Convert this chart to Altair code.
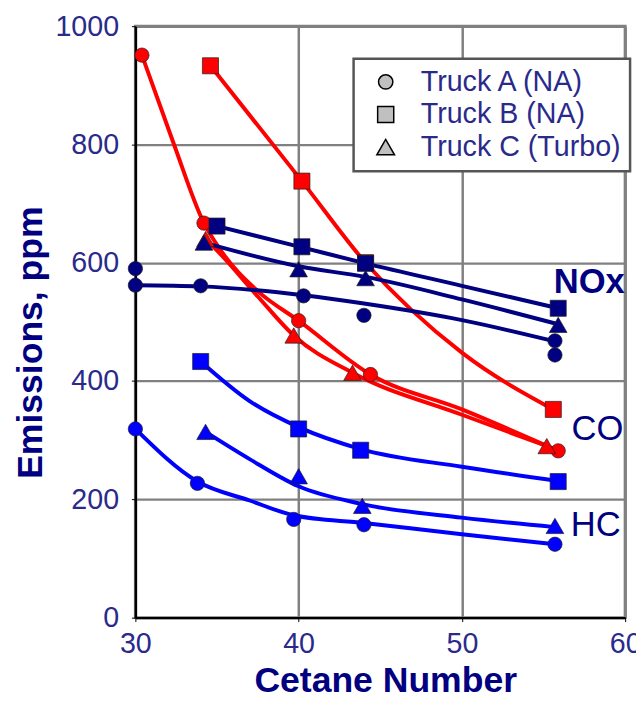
import altair as alt
import pandas as pd

co_a_x = [30.4, 34.2, 40.0, 44.4, 55.9]
co_a_y = [951, 667, 502, 411, 282]
co_b_x = [34.6, 40.2, 44.1, 55.6]
co_b_y = [933, 738, 600, 352]
co_c_x = [34.3, 39.7, 43.3, 55.2]
co_c_y = [640, 477, 414, 290]

hc_a_x = [30.0, 33.8, 39.7, 44.0, 55.7]
hc_a_y = [319, 227, 166, 157, 124]
hc_b_x = [34.0, 40.0, 43.8, 55.9]
hc_b_y = [433, 319, 283, 230]
hc_c_x = [34.3, 40.0, 43.9, 55.7]
hc_c_y = [314, 239, 189, 155]

nox_a_x = [30.0, 30.0, 34.0, 40.3, 44.0, 55.7, 55.7]
nox_a_y = [590, 562, 561, 544, 511, 468, 444]
nox_b_x = [35.0, 40.2, 44.1, 55.9]
nox_b_y = [662, 627, 599, 523]
nox_c_x = [34.2, 40.0, 44.1, 55.9]
nox_c_y = [634, 589, 574, 495]

# ---- trend curves ----
co_a_fit_x = [30.4, 32.3, 34.2, 35.2, 37.5, 40.0, 44.4, 50.0, 55.9]
co_a_fit_y = [951, 805, 667, 622, 552, 502, 411, 352, 282]
co_b_fit_x = [34.6, 40.2, 44.1, 50.0, 55.6]
co_b_fit_y = [933, 738, 600, 448, 352]
co_c_fit_x = [34.3, 35.2, 37.5, 39.7, 43.3, 50.0, 55.2]
co_c_fit_y = [640, 615, 543, 477, 414, 343, 290]

hc_a_fit_x = [30.0, 33.8, 37.0, 39.7, 44.0, 50.0, 55.7]
hc_a_fit_y = [319, 230, 198, 173, 160, 141, 124]
hc_b_fit_x = [34.0, 37.0, 40.0, 43.8, 50.0, 55.9]
hc_b_fit_y = [433, 366, 322, 285, 255, 231]
hc_c_fit_x = [34.3, 37.0, 40.0, 43.9, 50.0, 55.7]
hc_c_fit_y = [314, 268, 222, 192, 169, 153]

nox_a_fit_x = [30.0, 34.0, 40.3, 44.0, 50.0, 55.7]
nox_a_fit_y = [562, 560, 545, 531, 503, 467]
nox_b_fit_x = [35.0, 40.2, 44.1, 50.0, 55.9]
nox_b_fit_y = [662, 626, 599, 561, 523]
nox_c_fit_x = [34.2, 40.0, 44.1, 50.0, 55.9]
nox_c_fit_y = [634, 594, 576, 538, 496]

trucks = ["Truck A (NA)", "Truck B (NA)", "Truck C (Turbo)"]
pollutants = ["CO", "HC", "NOx"]
pollutant_colors = ["#ff0000", "#0000ff", "#000080"]
truck_shapes = ["circle", "square", "triangle-up"]
truck_sizes = [210, 320, 300]

label_text = ["NOx", "CO", "HC"]
label_x = [57.8, 58.3, 58.2]
label_y = [567, 319, 157]

marker_series = [
    ("CO", trucks[0], co_a_x, co_a_y),
    ("CO", trucks[1], co_b_x, co_b_y),
    ("CO", trucks[2], co_c_x, co_c_y),
    ("HC", trucks[0], hc_a_x, hc_a_y),
    ("HC", trucks[1], hc_b_x, hc_b_y),
    ("HC", trucks[2], hc_c_x, hc_c_y),
    ("NOx", trucks[0], nox_a_x, nox_a_y),
    ("NOx", trucks[1], nox_b_x, nox_b_y),
    ("NOx", trucks[2], nox_c_x, nox_c_y),
]
curve_series = [
    ("CO", trucks[0], co_a_fit_x, co_a_fit_y),
    ("CO", trucks[1], co_b_fit_x, co_b_fit_y),
    ("CO", trucks[2], co_c_fit_x, co_c_fit_y),
    ("HC", trucks[0], hc_a_fit_x, hc_a_fit_y),
    ("HC", trucks[1], hc_b_fit_x, hc_b_fit_y),
    ("HC", trucks[2], hc_c_fit_x, hc_c_fit_y),
    ("NOx", trucks[0], nox_a_fit_x, nox_a_fit_y),
    ("NOx", trucks[1], nox_b_fit_x, nox_b_fit_y),
    ("NOx", trucks[2], nox_c_fit_x, nox_c_fit_y),
]


def to_frame(series_list):
    rows = []
    for pol, trk, xs, ys in series_list:
        for i, (xv, yv) in enumerate(zip(xs, ys)):
            rows.append({"pollutant": pol, "truck": trk, "series": pol + " " + trk,
                         "idx": i, "x": xv, "y": yv})
    return pd.DataFrame(rows)


markers = to_frame(marker_series)
curves = to_frame(curve_series)
labels = pd.DataFrame({"text": label_text, "x": label_x, "y": label_y})

FONT = "Liberation Sans"
NAVY = "#000080"
LABEL_COLOR = "#2a2a8a"

xscale = alt.Scale(domain=[30, 60], nice=False, zero=False)
yscale = alt.Scale(domain=[0, 1000], nice=False)

x_axis = alt.Axis(
    values=[30, 40, 50, 60], format="d", title="Cetane Number", titleFont=FONT, titleFontSize=36,
    titleFontWeight="bold", titleColor=NAVY, labelFont=FONT, labelFontSize=29,
    labelColor=LABEL_COLOR, labelFlush=False, tickSize=4, tickColor="black",
    domainColor="black", domainWidth=2.5, gridColor="#808080", gridWidth=2.5,
    labelPadding=8, titlePadding=6, titleX=253,
)
y_axis = alt.Axis(
    values=[0, 200, 400, 600, 800, 1000], format="d", title="Emissions, ppm", titleFont=FONT,
    titleFontSize=36, titleFontWeight="bold", titleColor=NAVY, labelFont=FONT,
    labelFontSize=29, labelColor=LABEL_COLOR, labelFlush=False, tickSize=4,
    tickColor="black", domainColor="black", domainWidth=2.5, gridColor="#808080",
    gridWidth=2.5, labelPadding=13, titlePadding=6, titleY=320,
)

color_enc = alt.Color("pollutant:N", scale=alt.Scale(domain=pollutants, range=pollutant_colors), legend=None)

truck_legend = alt.Legend(
    orient="none", legendX=221, legendY=33, title=None,
    labelFont=FONT, labelFontSize=29, labelColor=LABEL_COLOR, labelLimit=0,
    symbolFillColor="#c0c0c0", symbolStrokeColor="#000000", symbolStrokeWidth=1.5,
    fillColor="white", strokeColor="#555555",
    padding=9, rowPadding=3, labelOffset=21, symbolOffset=9,
)

lines = alt.Chart(curves).mark_line(strokeWidth=4, interpolate="monotone", clip=True).encode(
    x=alt.X("x:Q", scale=xscale, axis=x_axis),
    y=alt.Y("y:Q", scale=yscale, axis=y_axis),
    color=color_enc,
    detail="series:N",
    order="idx:Q",
)

points = alt.Chart(markers).mark_point(
    filled=True, opacity=1, stroke="#202020", strokeWidth=1, strokeOpacity=0.7
).encode(
    x=alt.X("x:Q", scale=xscale),
    y=alt.Y("y:Q", scale=yscale),
    color=color_enc,
    size=alt.Size("truck:N", scale=alt.Scale(domain=trucks, range=truck_sizes), legend=truck_legend),
    shape=alt.Shape("truck:N", scale=alt.Scale(domain=trucks, range=truck_shapes), legend=truck_legend),
)

lbl_bold = alt.Chart(labels).transform_filter(alt.datum.text == "NOx").mark_text(
    font=FONT, fontSize=35, fontWeight="bold", color=NAVY, align="center", baseline="middle"
).encode(x=alt.X("x:Q", scale=xscale), y=alt.Y("y:Q", scale=yscale), text="text:N")

lbl_norm = alt.Chart(labels).transform_filter(alt.datum.text != "NOx").mark_text(
    font=FONT, fontSize=35, fontWeight="normal", color=NAVY, align="center", baseline="middle"
).encode(x=alt.X("x:Q", scale=xscale), y=alt.Y("y:Q", scale=yscale), text="text:N")

chart = alt.layer(lines, points, lbl_bold, lbl_norm).properties(
    width=496, height=599,
    autosize=alt.AutoSizeParams(type="none"),
    padding={"left": 129, "top": 14, "right": 11, "bottom": 75},
).configure_view(
    stroke="#808080", strokeWidth=3
).configure_legend(
    strokeWidth=2.5
)

chart.save("out.html", embed_options={"renderer": "svg", "actions": False})
